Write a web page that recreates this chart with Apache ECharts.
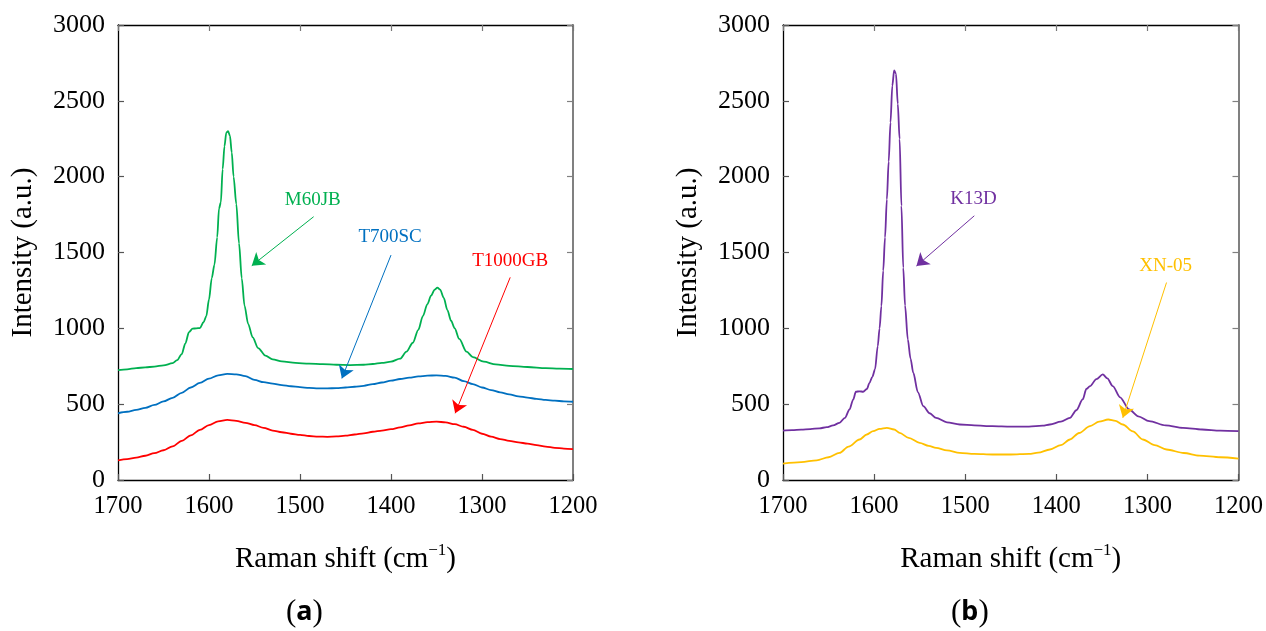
<!DOCTYPE html>
<html>
<head>
<meta charset="utf-8">
<script src="https://cdn.jsdelivr.net/npm/echarts@6/dist/echarts.min.js"></script>
<style>
    html, body { margin: 0; padding: 0; background: #fff; }
    #main { width: 1266px; height: 631px; }
</style>
</head>
<body>
<div id="main"></div>
<script>
/* 数据 (a) */
let m60jbX = [1700, 1690, 1680, 1670, 1660, 1650, 1640, 1635, 1630, 1626, 1622, 1618, 1614, 1610, 1606, 1603, 1600, 1597, 1594, 1591, 1589, 1587, 1585, 1583, 1581, 1579, 1577, 1575, 1573, 1570, 1567, 1564, 1561, 1557, 1552, 1546, 1538, 1530, 1520, 1505, 1490, 1475, 1460, 1445, 1430, 1420, 1410, 1400, 1390, 1383, 1376, 1370, 1365, 1360, 1356, 1352, 1349, 1346, 1342, 1338, 1334, 1330, 1325, 1317, 1310, 1298, 1285, 1270, 1250, 1230, 1215, 1200];
let m60jbY = [725, 730, 738, 742, 748, 756, 770, 790, 830, 900, 975, 998, 1000, 1002, 1040, 1080, 1190, 1330, 1420, 1600, 1790, 1830, 2050, 2200, 2290, 2300, 2270, 2160, 2000, 1820, 1560, 1330, 1150, 1030, 940, 870, 820, 795, 782, 772, 767, 764, 760, 758, 760, 765, 772, 780, 800, 846, 905, 990, 1080, 1160, 1215, 1255, 1268, 1255, 1200, 1120, 1050, 1000, 930, 846, 810, 780, 762, 752, 745, 738, 735, 732];

let t700scX = [1700, 1690, 1680, 1670, 1660, 1650, 1640, 1630, 1620, 1610, 1600, 1590, 1580, 1570, 1560, 1550, 1540, 1530, 1520, 1510, 1500, 1490, 1480, 1470, 1460, 1450, 1440, 1430, 1420, 1410, 1400, 1390, 1380, 1370, 1360, 1350, 1340, 1330, 1320, 1310, 1300, 1290, 1280, 1270, 1260, 1250, 1240, 1230, 1220, 1210, 1200];
let t700scY = [440, 450, 462, 476, 495, 518, 542, 575, 610, 640, 668, 690, 700, 697, 685, 660, 645, 636, 626, 618, 612, 607, 604, 604, 606, 610, 615, 621, 632, 643, 655, 666, 675, 683, 688, 690, 686, 675, 652, 632, 610, 593, 578, 564, 552, 543, 535, 528, 523, 519, 516];

let t1000gbX = [1700, 1690, 1680, 1670, 1660, 1650, 1640, 1630, 1620, 1610, 1600, 1590, 1580, 1570, 1560, 1550, 1540, 1530, 1520, 1510, 1500, 1490, 1480, 1470, 1460, 1450, 1440, 1430, 1420, 1410, 1400, 1390, 1380, 1370, 1360, 1350, 1340, 1330, 1320, 1310, 1300, 1290, 1280, 1270, 1260, 1250, 1240, 1230, 1220, 1210, 1200];
let t1000gbY = [130, 138, 147, 160, 177, 196, 222, 258, 294, 330, 362, 386, 396, 390, 377, 362, 344, 326, 315, 305, 297, 290, 286, 285, 287, 293, 300, 308, 318, 326, 335, 347, 360, 373, 381, 385, 380, 368, 351, 330, 305, 286, 270, 258, 248, 240, 230, 220, 212, 207, 203];

/* 数据 (b) */
let k13dX = [1700, 1690, 1680, 1670, 1660, 1652, 1645, 1638, 1632, 1627, 1623, 1620, 1616, 1612, 1608, 1605, 1602, 1599, 1596, 1594, 1592, 1590, 1588, 1586, 1584, 1582, 1580, 1578, 1576, 1574, 1572, 1570, 1568, 1566, 1563, 1560, 1557, 1552, 1546, 1539, 1532, 1520, 1506, 1490, 1470, 1450, 1430, 1415, 1407, 1395, 1385, 1378, 1371, 1367, 1363, 1356, 1349, 1344, 1338, 1330, 1320, 1310, 1298, 1280, 1261, 1240, 1220, 1200];
let k13dY = [326, 329, 332, 336, 341, 348, 360, 377, 410, 465, 530, 582, 585, 582, 600, 641, 680, 729, 883, 1000, 1147, 1380, 1600, 1850, 2100, 2358, 2600, 2700, 2680, 2480, 2248, 1808, 1400, 1150, 927, 800, 707, 580, 487, 440, 410, 380, 366, 360, 355, 352, 352, 358, 366, 385, 410, 460, 531, 600, 619, 665, 696, 670, 619, 545, 465, 420, 388, 360, 344, 333, 326, 322];

let xn05X = [1700, 1680, 1663, 1650, 1638, 1628, 1616, 1608, 1601, 1594, 1586, 1578, 1572, 1562, 1550, 1540, 1532, 1520, 1506, 1490, 1470, 1450, 1430, 1420, 1407, 1395, 1385, 1375, 1363, 1353, 1343, 1335, 1327, 1316, 1305, 1292, 1279, 1260, 1243, 1220, 1200];
let xn05Y = [108, 118, 130, 150, 179, 220, 267, 300, 322, 337, 344, 333, 311, 278, 245, 225, 212, 195, 179, 172, 168, 168, 172, 180, 201, 230, 267, 310, 355, 385, 399, 390, 366, 320, 267, 230, 201, 178, 161, 150, 141];

/* 刻度 */
let xTicks = [1700, 1600, 1500, 1400, 1300, 1200];
let yTicks = [0, 500, 1000, 1500, 2000, 2500, 3000];

let zip = function (xs, ys) {
    return xs.map(function (x, i) { return [x, ys[i]]; });
};

let serif = 'Liberation Serif';

let lineSeries = function (name, xs, ys, color, gi, label, arrow) {
    return {
        name: name,
        type: 'line',
        xAxisIndex: gi * 2,
        yAxisIndex: gi * 2,
        data: zip(xs, ys),
        showSymbol: false,
        smooth: 0.3,
        smoothMonotone: 'x',
        lineStyle: { color: color, width: 1.8 },
        itemStyle: { color: color },
        markLine: {
            silent: true,
            symbol: ['none', 'arrow'],
            symbolSize: 12,
            label: { show: false },
            itemStyle: { color: color },
            lineStyle: { color: color, width: 1, type: 'solid' },
            data: [[{ coord: arrow[0] }, { coord: arrow[1] }]]
        },
        markPoint: {
            silent: true,
            symbol: 'rect',
            symbolSize: 1,
            itemStyle: { color: 'rgba(0,0,0,0)' },
            label: {
                show: true,
                position: 'inside',
                formatter: name,
                color: color,
                fontFamily: serif,
                fontSize: 19
            },
            data: [{ coord: label }]
        }
    };
};

let xAxes = function (gi) {
    let base = {
        type: 'value',
        gridIndex: gi,
        min: 1200,
        max: 1700,
        interval: 100,
        inverse: true,
        splitLine: { show: false }
    };
    return [
        Object.assign({}, base, {
            position: 'bottom',
            name: '{n|Raman shift (cm}{s|\u22121}{n|)}',
            nameLocation: 'middle',
            nameGap: 62,
            nameTextStyle: {
                rich: {
                    n: { fontFamily: serif, fontSize: 29, color: '#000', lineHeight: 34 },
                    s: { fontFamily: serif, fontSize: 17, color: '#000', verticalAlign: 'top', lineHeight: 17 }
                }
            },
            axisLine: { lineStyle: { color: '#000', width: 1.3 } },
            axisTick: { inside: true, length: 6, lineStyle: { color: '#555', width: 1.2 } },
            axisLabel: {
                margin: 14, fontFamily: serif, fontSize: 24.5, color: '#000',
                formatter: function (v) { return xTicks.indexOf(v) >= 0 ? String(v) : ''; }
            }
        }),
        Object.assign({}, base, {
            position: 'top',
            axisLine: { onZero: false, lineStyle: { color: '#000', width: 1.3 } },
            axisTick: { inside: true, length: 6, lineStyle: { color: '#777', width: 1.2 } },
            axisLabel: { show: false }
        })
    ];
};

let yAxes = function (gi) {
    let base = {
        type: 'value',
        gridIndex: gi,
        min: 0,
        max: 3000,
        interval: 500,
        splitLine: { show: false }
    };
    return [
        Object.assign({}, base, {
            position: 'left',
            name: 'Intensity (a.u.)',
            nameLocation: 'middle',
            nameGap: 80,
            nameTextStyle: { fontFamily: serif, fontSize: 29, color: '#000' },
            axisLine: { show: true, lineStyle: { color: '#000', width: 1.3 } },
            axisTick: { show: true, inside: true, length: 6, lineStyle: { color: '#555', width: 1.2 } },
            axisLabel: {
                margin: 13, fontFamily: serif, fontSize: 26, color: '#000',
                formatter: function (v) { return yTicks.indexOf(v) >= 0 ? String(v) : ''; }
            }
        }),
        Object.assign({}, base, {
            position: 'right',
            axisLine: { show: true, onZero: false, lineStyle: { color: '#808080', width: 2 } },
            axisTick: { show: true, inside: true, length: 6, lineStyle: { color: '#808080', width: 1.2 } },
            axisLabel: { show: false }
        })
    ];
};

let panelLabel = function (letter, x) {
    return {
        type: 'text',
        left: x,
        top: 597,
        style: {
            text: '{p|(}{b|' + letter + '}{p|)}',
            rich: {
                p: { fontFamily: serif, fontSize: 31, fill: '#000' },
                b: { fontFamily: 'Noto Sans', fontWeight: 'bold', fontSize: 27, fill: '#000' }
            }
        }
    };
};

let chart = echarts.init(document.getElementById('main'));
let options = {
    animation: false,
    backgroundColor: '#fff',
    grid: [
        { left: 118, right: 693, top: 25, bottom: 151 },
        { left: 783, right: 27, top: 25, bottom: 151 }
    ],
    xAxis: xAxes(0).concat(xAxes(1)),
    yAxis: yAxes(0).concat(yAxes(1)),
    graphic: [panelLabel('a', 286), panelLabel('b', 951)],
    series: [
        lineSeries('M60JB', m60jbX, m60jbY, '#00B050', 0, [1486, 1846], [[1485, 1736], [1553, 1413]]),
        lineSeries('T700SC', t700scX, t700scY, '#0070C0', 0, [1401, 1599], [[1400, 1483], [1454, 670]]),
        lineSeries('T1000GB', t1000gbX, t1000gbY, '#FF0000', 0, [1269, 1444], [[1269, 1336], [1329.5, 440]]),
        lineSeries('K13D', k13dX, k13dY, '#7030A0', 1, [1491, 1852], [[1490, 1742], [1553.5, 1411]]),
        lineSeries('XN-05', xn05X, xn05Y, '#FFC000', 1, [1280, 1411], [[1279, 1302], [1327, 410]])
    ]
};
chart.setOption(options);
</script>
</body>
</html>
